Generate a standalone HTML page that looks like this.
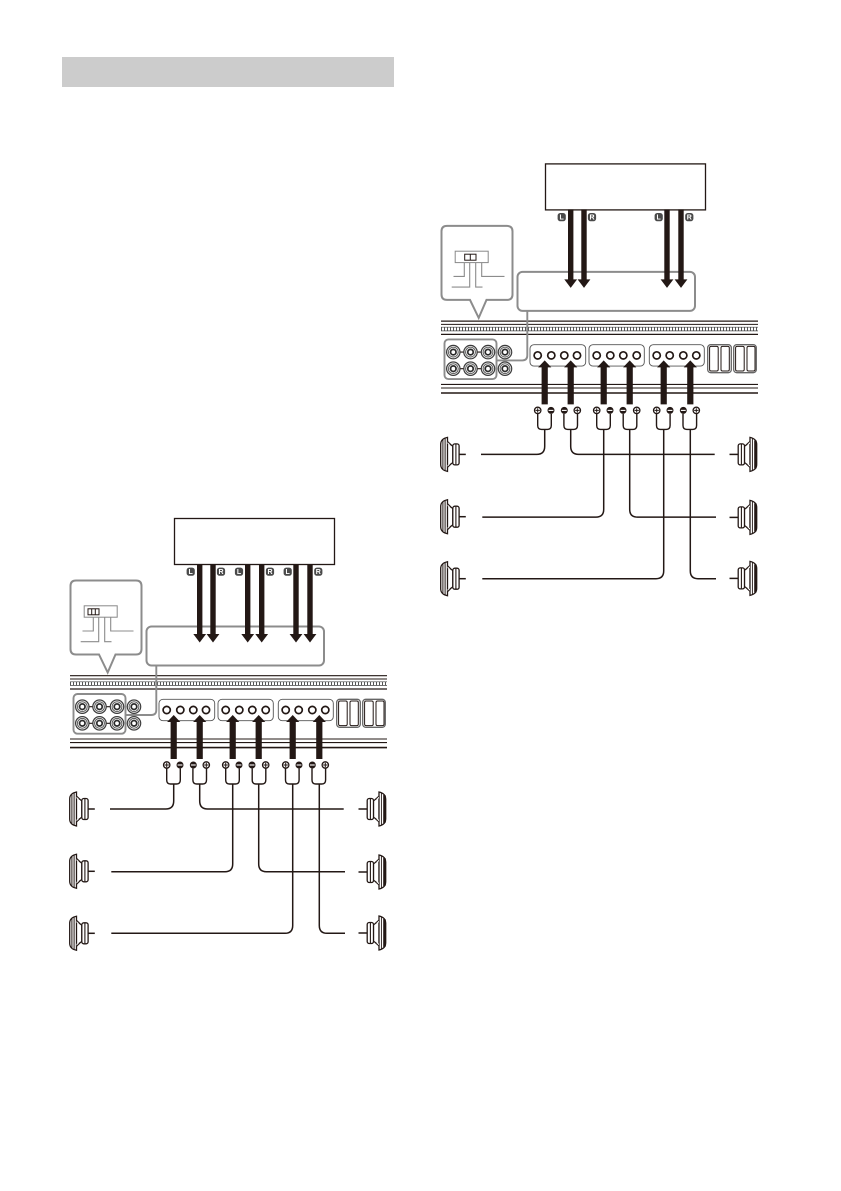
<!DOCTYPE html>
<html><head><meta charset="utf-8"><style>
html,body{margin:0;padding:0;background:#fff}
svg{display:block}
text{font-family:"Liberation Sans",sans-serif;font-weight:bold;font-size:7px;fill:#fff;text-anchor:middle}
</style></head><body>
<svg width="841" height="1191" viewBox="0 0 841 1191" xmlns="http://www.w3.org/2000/svg">
<defs>
<g id="rca"><circle r="7.3" fill="#3a3a3a"/><circle r="5.7" fill="none" stroke="#ddd" stroke-width=".9"/><circle r="4.1" fill="none" stroke="#eee" stroke-width=".9"/><circle r="2.4" fill="#fff" stroke="#222" stroke-width="1"/></g>
<circle id="term" r="3.6" fill="#fff" stroke="#231815" stroke-width="1.7"/>
<g id="plus"><circle r="3.2" fill="#fff" stroke="#231815" stroke-width="1.3"/><path d="M-2.2 0H2.2M0-2.2V2.2" stroke="#231815" stroke-width="1"/></g>
<g id="minus"><circle r="3.5" fill="#231815"/><path d="M-2.4 0H2.4" stroke="#fff" stroke-width="1.1"/></g>
<path id="arrowD" d="M-2.7 0H2.7V70H6.4L0 78.5L-6.4 70H-2.7Z" fill="#231815"/>
<path id="arrowU" d="M0 0L6.6 7H3.1V44H-3.1V7H-6.6Z" fill="#231815"/>
<g id="fork" fill="none" stroke="#231815" stroke-width="1.4"><path d="M-6.8 -15.5V-4Q-6.8 0 -3 0H3Q6.8 0 6.8 -4V-15.5"/></g>
<g id="spk" fill="#fff" stroke="#231815" stroke-width="1.1">
<path d="M7.2 -17C2.5 -16 .4 -14 .4 -10V10C.4 14 2.5 16 7.2 17Z" stroke-width="1.3"/>
<path d="M2.6 -15V15M4.8 -16V16" stroke-width="1"/>
<path d="M7.2 -13L12.5 -8V8L7.2 13" />
<path d="M7.5 -10.5V10.5M9.5 -10L12.5 -8M9.5 10L12.5 8" stroke-width=".7"/>
<rect x="12.5" y="-10.5" width="6.3" height="21" rx="2" stroke-width="1.3"/>
<path d="M15.6 -10V10" stroke-width="1.1"/>
<path d="M18.8 0H25.5" stroke-width="1.5"/>
</g>
<g id="spkR" fill="#fff" stroke="#231815" stroke-width="1.1">
<path d="M-7 -17C-2.5 -16 -.3 -14 -.3 -10V10C-.3 14 -2.5 16 -7 17Z" stroke-width="1.3"/>
<path d="M-1.6 -14V14" stroke-width="2.4"/>
<path d="M-4.6 -16V16" stroke-width=".9"/>
<path d="M-7 -13L-12.5 -8V8L-7 13" />
<path d="M-7.5 -10.5V10.5M-9.5 -10L-12.5 -8M-9.5 10L-12.5 8" stroke-width=".7"/>
<rect x="-18.8" y="-10.5" width="6.3" height="21" rx="2" stroke-width="1.3"/>
<path d="M-15.6 -10V10" stroke-width="1.1"/>
<path d="M-18.8 0H-27.5" stroke-width="1.5"/>
</g>
<g id="lab"><rect x="-4.1" y="-4.1" width="8.2" height="8.2" rx="2.6" fill="#4a4a4a"/></g>

<g id="base">
 <rect x="174.5" y="518.5" width="160" height="46" fill="#fff" stroke="#231815" stroke-width="1.3"/>
 <rect x="146.5" y="626.5" width="177.5" height="39" rx="5" fill="none" stroke="#8c8c8c" stroke-width="2"/>
 <path d="M76 580.5H136Q141.5 580.5 141.5 586V649Q141.5 654.5 136 654.5H115.5L107.7 672.5L99 654.5H76Q70.5 654.5 70.5 649V586Q70.5 580.5 76 580.5Z" fill="#fff" stroke="#8c8c8c" stroke-width="2"/>
 <rect x="84.2" y="605.8" width="33" height="11.4" fill="#fff" stroke="#888" stroke-width="1"/>
 <g fill="none" stroke="#8c8c8c" stroke-width="1.1">
  <path d="M93.3 617.5V631H82.5M98.7 617.5V641.7H80.7M104.7 617.5V641.7H111.5M110.7 617.5V631H133.5"/>
 </g>
 <g stroke="#231815" fill="none">
  <path d="M70 675.7H387" stroke-width="1.2"/>
  <path d="M70 679H387" stroke-width="1"/>
  <path d="M70 681.8H387M70 685.5H387" stroke-width=".7" stroke="#444"/>
  <path d="M70 683.6H387" stroke-width="3.2" stroke-dasharray="1 2" stroke="#555"/>
  <path d="M70 689H387" stroke-width="1.2"/>
  <path d="M70 739H387" stroke-width="1.1"/>
  <path d="M70 742.6H387" stroke-width="1.1"/>
  <path d="M70 747.6H387" stroke-width="1.6"/>
 </g>
 <path d="M82 706.7H117M82 723.3H117" stroke="#231815" stroke-width="1.1"/>
 <use href="#rca" x="82.3" y="706.7"/><use href="#rca" x="99.5" y="706.7"/><use href="#rca" x="117" y="706.7"/><use href="#rca" x="134" y="706.7"/>
 <use href="#rca" x="82.3" y="723.3"/><use href="#rca" x="99.5" y="723.3"/><use href="#rca" x="117" y="723.3"/><use href="#rca" x="134" y="723.3"/>
 <rect x="73.5" y="694" width="52" height="39.7" rx="4" fill="none" stroke="#8c8c8c" stroke-width="1.9"/>
 <path d="M156.3 665.5V710Q156.3 715 151.3 715H126" fill="none" stroke="#8c8c8c" stroke-width="1.9"/>
 <g fill="#fff" stroke="#555" stroke-width=".9">
  <rect x="159" y="699.3" width="55.7" height="21.4" rx="4"/>
  <rect x="218" y="699.3" width="55.3" height="21.4" rx="4"/>
  <rect x="278.3" y="699.3" width="55" height="21.4" rx="4"/>
 </g>
 <use href="#term" x="166.7" y="710"/><use href="#term" x="180.3" y="710"/><use href="#term" x="193.3" y="710"/><use href="#term" x="206" y="710"/>
 <use href="#term" x="225.7" y="710"/><use href="#term" x="239.3" y="710"/><use href="#term" x="252.3" y="710"/><use href="#term" x="265.7" y="710"/>
 <use href="#term" x="285.7" y="710"/><use href="#term" x="298.7" y="710"/><use href="#term" x="312.3" y="710"/><use href="#term" x="325.3" y="710"/>
 <g fill="#fff" stroke="#231815" stroke-width="1">
  <rect x="336.7" y="699.3" width="23.6" height="28" rx="3" stroke="#666" stroke-width="1.3"/>
  <rect x="338.6" y="701" width="8.6" height="24.6" rx="1.5"/>
  <rect x="350" y="701" width="8.3" height="24.6" rx="1.5"/>
  <rect x="362.7" y="699.3" width="22.6" height="28" rx="3" stroke="#666" stroke-width="1.3"/>
  <rect x="364.6" y="701" width="8.6" height="24.6" rx="1.5"/>
  <rect x="376" y="701" width="8" height="24.6" rx="1.5"/>
 </g>
 <use href="#arrowU" x="173.7" y="715"/><use href="#arrowU" x="199.7" y="715"/><use href="#arrowU" x="232.7" y="715"/><use href="#arrowU" x="258.7" y="715"/><use href="#arrowU" x="292.7" y="715"/><use href="#arrowU" x="319.3" y="715"/>
 <g fill="none" stroke="#231815" stroke-width="1.5">
  <path d="M173.7 784V801Q173.7 809 165.7 809H110"/>
  <path d="M199.7 784V801Q199.7 809 207.7 809H343.7"/>
  <path d="M232.7 784V864Q232.7 871.7 225 871.7H111.3"/>
  <path d="M258.7 784V864Q258.7 871.7 266.4 871.7H345"/>
  <path d="M292.7 784V925.5Q292.7 933.3 285 933.3H111.3"/>
  <path d="M319.3 784V925.5Q319.3 933.3 327 933.3H345"/>
 </g>
 <use href="#fork" x="173.5" y="784"/><use href="#fork" x="199.7" y="784"/><use href="#fork" x="232.5" y="784"/><use href="#fork" x="259" y="784"/><use href="#fork" x="292.3" y="784"/><use href="#fork" x="318.8" y="784"/>
 <use href="#plus" x="166.7" y="765"/><use href="#minus" x="180" y="765"/><use href="#minus" x="193.3" y="765"/><use href="#plus" x="206.3" y="765"/>
 <use href="#plus" x="225.7" y="765"/><use href="#minus" x="239" y="765"/><use href="#minus" x="252" y="765"/><use href="#plus" x="265.7" y="765"/>
 <use href="#plus" x="285.7" y="765"/><use href="#minus" x="299" y="765"/><use href="#minus" x="312.3" y="765"/><use href="#plus" x="325.3" y="765"/>
 <use href="#spk" x="69.3" y="809"/><use href="#spk" x="69.3" y="871.3"/><use href="#spk" x="69.3" y="933.3"/>
 <use href="#spkR" x="386" y="809"/><use href="#spkR" x="386" y="872"/><use href="#spkR" x="386" y="933"/>
</g>
</defs>

<rect width="841" height="1191" fill="#fff"/>
<rect x="62" y="57" width="332" height="30" fill="#cccccc"/>

<use href="#base"/>
<g fill="#fff" stroke="#231815" stroke-width="1">
 <rect x="88" y="608.8" width="11" height="6"/>
 <path d="M91.7 608.8V614.8M95.3 608.8V614.8" fill="none"/>
</g>
<use href="#arrowD" x="199.7" y="564"/><use href="#arrowD" x="213" y="564"/><use href="#arrowD" x="247.7" y="564"/><use href="#arrowD" x="261.7" y="564"/><use href="#arrowD" x="296" y="564"/><use href="#arrowD" x="310" y="564"/>
<use href="#lab" x="190.7" y="571.7"/><text x="190.7" y="574.2">L</text>
<use href="#lab" x="221" y="571.7"/><text x="221" y="574.2">R</text>
<use href="#lab" x="239" y="571.7"/><text x="239" y="574.2">L</text>
<use href="#lab" x="270" y="571.7"/><text x="270" y="574.2">R</text>
<use href="#lab" x="287.7" y="571.7"/><text x="287.7" y="574.2">L</text>
<use href="#lab" x="318.3" y="571.7"/><text x="318.3" y="574.2">R</text>

<g transform="translate(371,-354.6)">
 <use href="#base"/>
 <g fill="#fff" stroke="#231815" stroke-width="1">
  <rect x="93.7" y="608.8" width="11.3" height="6"/>
  <path d="M99.3 608.8V614.8" fill="none"/>
 </g>
 <use href="#arrowD" x="199.7" y="564"/><use href="#arrowD" x="213" y="564"/><use href="#arrowD" x="296" y="564"/><use href="#arrowD" x="310" y="564"/>
 <use href="#lab" x="190.7" y="571.7"/><text x="190.7" y="574.2">L</text>
 <use href="#lab" x="221" y="571.7"/><text x="221" y="574.2">R</text>
 <use href="#lab" x="287.7" y="571.7"/><text x="287.7" y="574.2">L</text>
 <use href="#lab" x="318.3" y="571.7"/><text x="318.3" y="574.2">R</text>
</g>
</svg>
</body></html>
